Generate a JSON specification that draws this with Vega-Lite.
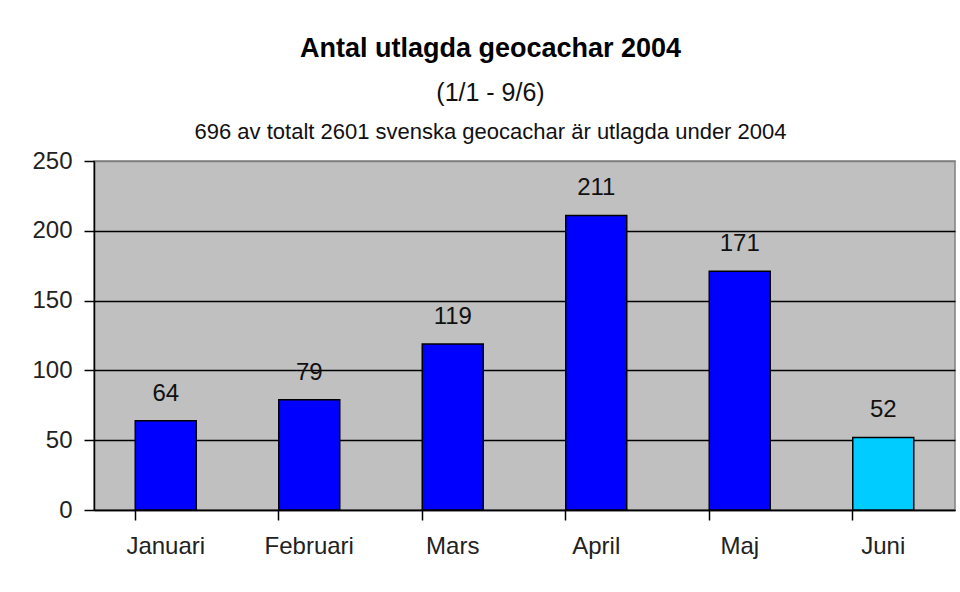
{
  "$schema": "https://vega.github.io/schema/vega-lite/v6.json",
  "width": 861,
  "height": 349,
  "autosize": {"type": "none"},
  "padding": {"left": 94, "top": 161, "right": 5, "bottom": 82},
  "background": "white",
  "title": {
    "text": "Antal utlagda geocachar 2004",
    "subtitle": "(1/1 - 9/6)",
    "font": "Liberation Sans",
    "fontSize": 27,
    "fontWeight": "bold",
    "color": "#000000",
    "subtitleFont": "Liberation Sans",
    "subtitleFontSize": 25,
    "subtitleColor": "#111111",
    "subtitlePadding": 18,
    "anchor": "middle",
    "frame": "group",
    "dx": -34,
    "offset": 13
  },
  "data": {
    "values": [
      {"month": "Januari", "count": 64},
      {"month": "Februari", "count": 79},
      {"month": "Mars", "count": 119},
      {"month": "April", "count": 211},
      {"month": "Maj", "count": 171},
      {"month": "Juni", "count": 52}
    ]
  },
  "config": {
    "view": {"fill": "#c0c0c0", "stroke": "#808080", "strokeWidth": 1.5},
    "font": "Liberation Sans"
  },
  "layer": [
    {
      "mark": {"type": "bar", "stroke": "#000000", "strokeWidth": 1.5},
      "encoding": {
        "x": {
          "field": "month",
          "type": "nominal",
          "sort": null,
          "scale": {"paddingInner": 0.575, "paddingOuter": 0.2875},
          "axis": {
            "orient": "bottom",
            "title": null,
            "labelAngle": 0,
            "labelFont": "Liberation Sans",
            "labelFontSize": 24,
            "labelColor": "#222222",
            "labelPadding": 14,
            "bandPosition": 0,
            "ticks": true,
            "tickSize": 10,
            "tickColor": "#000000",
            "tickWidth": 1.5,
            "domainColor": "#000000",
            "domainWidth": 1.5,
            "grid": false
          }
        },
        "y": {
          "field": "count",
          "type": "quantitative",
          "scale": {"domain": [0, 250], "nice": false},
          "axis": {
            "title": null,
            "values": [0, 50, 100, 150, 200, 250],
            "labelFont": "Liberation Sans",
            "labelFontSize": 24,
            "labelColor": "#222222",
            "labelPadding": 12,
            "tickSize": 10,
            "tickColor": "#000000",
            "tickWidth": 1.5,
            "domainColor": "#000000",
            "domainWidth": 1.5,
            "grid": true,
            "gridColor": {"condition": {"test": "datum.value == 250", "value": "#808080"}, "value": "#000000"},
            "gridWidth": 1.5
          }
        },
        "color": {
          "condition": {"test": "datum.month === 'Juni'", "value": "#00CCFF"},
          "value": "#0000FF"
        }
      }
    },
    {
      "mark": {"type": "text", "baseline": "alphabetic", "dy": -20, "fontSize": 24, "font": "Liberation Sans", "color": "#111111"},
      "encoding": {
        "x": {
          "field": "month",
          "type": "nominal",
          "sort": null,
          "axis": {
            "orient": "top",
            "labels": false,
            "ticks": false,
            "domain": false,
            "grid": false,
            "title": "696 av totalt 2601 svenska geocachar är utlagda under 2004",
            "titleFont": "Liberation Sans",
            "titleFontSize": 22,
            "titleFontWeight": "normal",
            "titleColor": "#111111",
            "titleBaseline": "alphabetic",
            "titlePadding": 23,
            "titleX": 396
          }
        },
        "y": {"field": "count", "type": "quantitative"},
        "text": {"field": "count", "type": "quantitative"}
      }
    }
  ],
  "resolve": {"axis": {"x": "independent"}}
}
